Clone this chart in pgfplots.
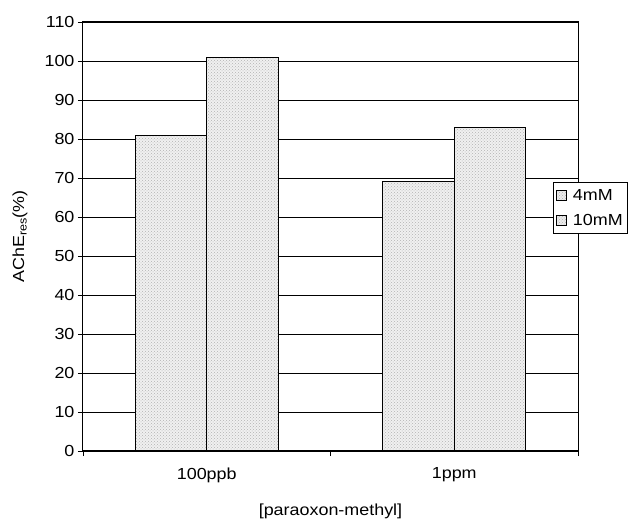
\documentclass[border=0pt]{standalone}
\usepackage{pgfplots}
\pgfplotsset{compat=1.18}
\usepackage{fontspec}
\setmainfont{Liberation Sans}[FakeStretch=1.12]
\usetikzlibrary{patterns}

\pgfplotstableread{
x  a   b
0  81  101
1  69  83
}\residual

\begin{document}
\begin{tikzpicture}[font=\fontsize{16}{19}\selectfont]
\begin{axis}[
  at={(0,0)}, anchor=south west,
  scale only axis, width=495pt, height=429pt,
  xmin=-0.5, xmax=1.5, ymin=0, ymax=110,
  ytick={0,10,...,110},
  xtick={-0.5,0.5,1.5}, xticklabels={},
  extra x ticks={0,1}, extra x tick labels={100ppb,1ppm},
  extra x tick style={major tick length=0pt, xticklabel style={yshift=-13pt}},
  xtick pos=bottom, ytick pos=left,
  tick align=outside, major tick length=5pt,
  tick style={black, line width=0.8pt},
  ymajorgrids, grid style={black, line width=0.7pt},
  axis line style={black, line width=1pt},
  /pgf/number format/assume math mode=true,
  ticklabel style={font=\fontsize{16}{19}\selectfont},
  ylabel={AChE\textsubscript{res}(\%)},
  ylabel style={at={(rel axis cs:0,0.5)}, anchor=south, yshift=52pt,
    font=\fontsize{16}{19}\selectfont},
  xlabel={[paraoxon-methyl]},
  xlabel style={at={(rel axis cs:0.5,0)}, yshift=-49pt, anchor=north,
    font=\fontsize{16}{19}\selectfont},
  ybar=0pt, bar width=71.5pt,
  legend style={at={(rel axis cs:0.949,0.627)}, anchor=north west,
    draw=black, line width=0.8pt, fill=white, inner xsep=3pt, inner ysep=5pt,
    font=\fontsize{16}{19}\selectfont, row sep=8pt,
    legend cell align=left,
    nodes={inner xsep=2pt}},
  legend image code/.code={
    \draw[black, line width=0.8pt, fill=white!92!black] (2pt,-5pt) rectangle (12pt,5pt);},
  legend image post style={xshift=0pt},
]
\addplot[draw=black, line width=1.1pt, fill=white!94!black,
  postaction={pattern=crosshatch dots, pattern color=black!30}]
  table[x=x, y=a] {\residual};
\addplot[draw=black, line width=1.1pt, fill=white!94!black,
  postaction={pattern=crosshatch dots, pattern color=black!30}]
  table[x=x, y=b] {\residual};
\legend{\hspace{4pt}4mM,\hspace{4pt}10mM}
\end{axis}
\useasboundingbox (-83pt,-76pt) rectangle (546pt,451pt);
\end{tikzpicture}
\end{document}
